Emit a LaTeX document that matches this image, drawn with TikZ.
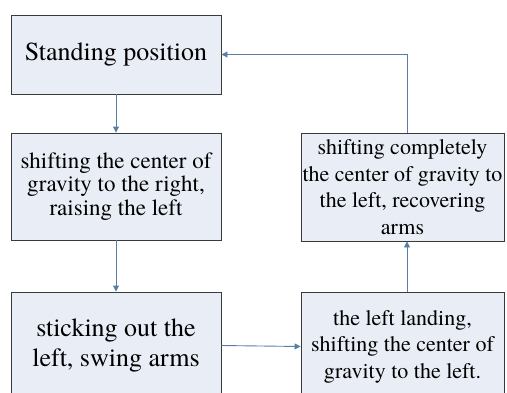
\documentclass[tikz,border=0pt]{standalone}
\usepackage{fontspec}
\setmainfont{TeX Gyre Termes}
\usetikzlibrary{arrows.meta}

\definecolor{boxfill}{HTML}{E9EEF6}
\definecolor{boxline}{HTML}{3A3A3A}
\definecolor{linkblue}{HTML}{5A7DA8}

\begin{document}
\begin{tikzpicture}[x=1pt, y=-1pt,
    stepbox/.style={draw=boxline, fill=boxfill, line width=0.9pt, inner sep=0pt, align=center},
    leftbox/.style={stepbox, minimum width=210pt},
    rightbox/.style={stepbox, minimum width=203pt, minimum height=108pt, font=\fontsize{22}{26.5}\selectfont},
    link/.style={draw=linkblue, line width=0.9pt, -{Triangle[length=6pt, width=6pt]}}]
    % Canvas
    \useasboundingbox (0,0) rectangle (507,392);
    \clip (0,0) rectangle (507,392);

    % Left column
    \node[leftbox, minimum height=79pt, font=\fontsize{26}{30}\selectfont] (stand) at (116,54.5) {Standing position};
    \node[leftbox, minimum height=107pt, font=\fontsize{23}{23.5}\selectfont] (shiftright) at (116,186.5)
        {shifting the center of\\gravity to the right,\\raising the left};
    \node[leftbox, minimum height=107pt, font=\fontsize{26}{30}\selectfont] (stick) at (116,345.5)
        {sticking out the\\left, swing arms};

    % Right column
    \node[rightbox] (recover) at (402.5,187)
        {shifting completely\\the center of gravity to\\the left, recovering\\arms};
    \node[rightbox] (land) at (402.5,346.5)
        {the left landing,\\shifting the center of\\gravity to the left.};

    % Connectors
    \draw[link] (stand) -- (shiftright);
    \draw[link] (shiftright) -- (stick);
    \draw[link] (stick.east) -- (land.west);
    \draw[link] ([xshift=4.5pt]land.north) -- ([xshift=4.5pt]recover.south);
    \draw[link] ([xshift=4.5pt]recover.north) |- (stand.east);
\end{tikzpicture}
\end{document}
